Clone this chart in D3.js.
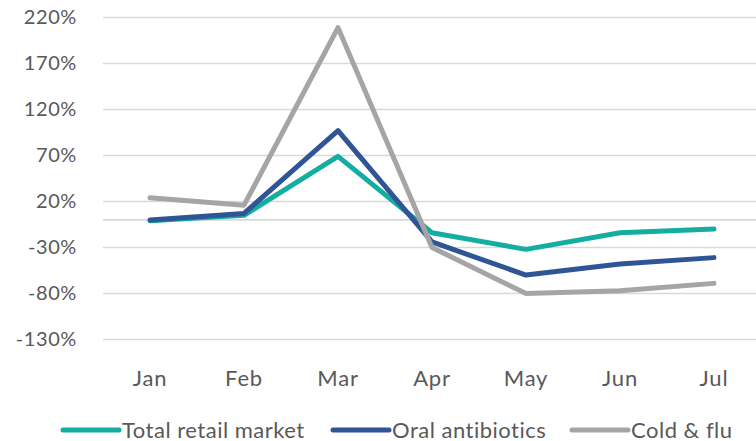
<!DOCTYPE html>
<html>
<head>
<meta charset="utf-8">
<script src="https://cdn.jsdelivr.net/npm/d3@7/dist/d3.min.js"></script>
<style>
  html, body { margin: 0; padding: 0; background: #fff; }
  svg { display: block; }
  text { font-family: Lato, "Open Sans", sans-serif; fill: #595959; }
</style>
</head>
<body>
<svg id="chart" width="756" height="441"></svg>
<script>
const months = ["Jan", "Feb", "Mar", "Apr", "May", "Jun", "Jul"];
const totalRetail = [-1, 5, 69, -14, -32, -14, -10];
const oralAntibiotics = [0, 7, 97, -24, -60, -48, -41];
const coldFlu = [24, 16, 209, -30, -80, -77, -69];
const tickValues = [-130, -80, -30, 20, 70, 120, 170, 220];
const seriesNames = ["Total retail market", "Oral antibiotics", "Cold & flu"];
const seriesColors = ["#13ae9f", "#2f5597", "#a5a5a5"];

const series = [totalRetail, oralAntibiotics, coldFlu].map((vals, i) => ({
  name: seriesNames[i], color: seriesColors[i], values: vals
}));

const svg = d3.select("#chart");
const x = d3.scaleBand().domain(months).range([103, 761]).padding(0);
const y = d3.scaleLinear().domain([-130, 220]).range([339.5, 17.5]);

// gridlines
svg.append("g").selectAll("line").data(tickValues.concat([0])).join("line")
  .attr("x1", 103).attr("x2", 756)
  .attr("y1", d => y(d)).attr("y2", d => y(d))
  .attr("stroke", "#d9d9d9").attr("stroke-width", 1.6);

// y axis labels
const yAxis = d3.axisLeft(y).tickValues(tickValues).tickSize(0).tickPadding(0)
  .tickFormat(d => d + "%");
const yg = svg.append("g").attr("transform", "translate(77,0)").call(yAxis);
yg.select(".domain").remove();
yg.selectAll("text").style("font-size", "20px").style("letter-spacing", "0.6px")
  .attr("fill", "#595959").attr("font-family", "Lato, sans-serif");

// x axis labels
const xAxis = d3.axisBottom(x).tickSize(0).tickPadding(0);
const xg = svg.append("g").attr("transform", "translate(0,370)").call(xAxis);
xg.select(".domain").remove();
xg.selectAll("text").style("font-size", "22px").style("letter-spacing", "0.8px")
  .attr("fill", "#595959").attr("font-family", "Lato, sans-serif");

// lines
const line = d3.line()
  .x((d, i) => x(months[i]) + x.bandwidth() / 2)
  .y(d => y(d));

svg.append("g").selectAll("path").data(series).join("path")
  .attr("d", d => line(d.values))
  .attr("fill", "none")
  .attr("stroke", d => d.color)
  .attr("stroke-width", 5)
  .attr("stroke-linejoin", "round")
  .attr("stroke-linecap", "round");

// legend
const legendX = [63, 333, 572];
const lg = svg.append("g").selectAll("g").data(series).join("g")
  .attr("transform", (d, i) => `translate(${legendX[i]},430)`);
lg.append("line").attr("x1", 0).attr("x2", 56).attr("y1", 0).attr("y2", 0)
  .attr("stroke", d => d.color).attr("stroke-width", 5).attr("stroke-linecap", "round");
lg.append("text").attr("x", 59).attr("y", 7.5).style("font-size", "22px")
  .style("letter-spacing", "0.5px")
  .text(d => d.name);
</script>
</body>
</html>
